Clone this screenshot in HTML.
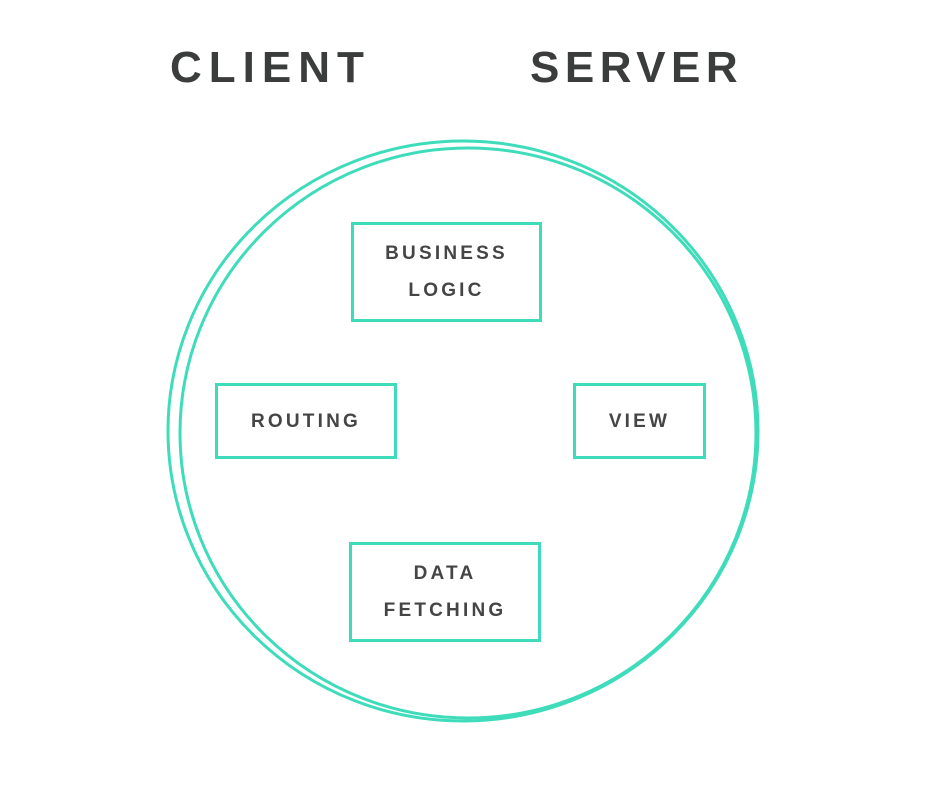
<!DOCTYPE html>
<html><head><meta charset="utf-8"><style>
html,body{margin:0;padding:0;background:#fff;}
body{width:926px;height:806px;position:relative;overflow:hidden;font-family:"Liberation Sans",sans-serif;}
.h{position:absolute;font-weight:bold;color:#3b3d3c;font-size:44px;line-height:1;}
.b{position:absolute;border:3px solid #3fdcbb;box-sizing:border-box;display:flex;align-items:center;justify-content:center;text-align:center;font-weight:bold;color:#454545;font-size:19px;letter-spacing:3.2px;line-height:37px;}
</style></head><body>
<svg width="926" height="806" style="position:absolute;left:0;top:0">
<ellipse cx="463" cy="431" rx="295" ry="290" fill="none" stroke="#3fdcbb" stroke-width="3"/>
<ellipse cx="468" cy="433" rx="288" ry="285" fill="none" stroke="#3fdcbb" stroke-width="3"/>
</svg>
<div class="h" style="left:170px;top:46px;letter-spacing:7px">CLIENT</div>
<div class="h" style="left:530px;top:46px;letter-spacing:5.5px">SERVER</div>
<div class="b" style="left:351px;top:222px;width:191px;height:100px">BUSINESS<br>LOGIC</div>
<div class="b" style="left:215px;top:383px;width:182px;height:76px">ROUTING</div>
<div class="b" style="left:573px;top:383px;width:133px;height:76px">VIEW</div>
<div class="b" style="left:349px;top:542px;width:192px;height:100px">DATA<br>FETCHING</div>
</body></html>
